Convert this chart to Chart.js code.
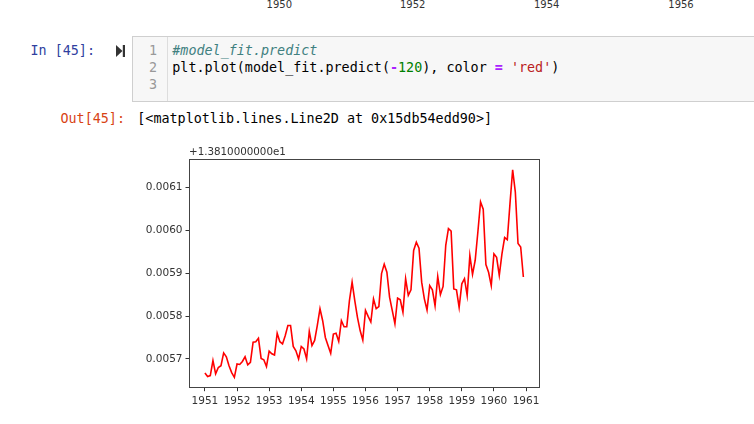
<!DOCTYPE html>
<html>
<head>
<meta charset="utf-8">
<script src="https://cdn.jsdelivr.net/npm/chart.js@4.4.0/dist/chart.umd.min.js"></script>
<style>
  html, body { margin:0; padding:0; background:#fff; width:754px; height:424px; overflow:hidden; position:relative; }
  .abs { position:absolute; white-space:pre; }
  .mono { font-family:"DejaVu Sans Mono", "Liberation Mono", monospace; font-size:13.4px; line-height:17px; }
  .toplbl { font-family:"DejaVu Sans", sans-serif; font-size:10px; line-height:12px; color:#333; top:-1.5px; transform:translateX(-50%); }
  #cell { position:absolute; left:131.5px; top:35.5px; width:640px; height:66.5px; background:#f7f7f7; border:1px solid #cfcfcf; box-sizing:border-box; }
  #gutter { position:absolute; left:131.5px; top:36.5px; width:36px; height:64.5px; border-right:1px solid #ddd; box-sizing:border-box; }
  .ln { color:#999; text-align:right; width:20px; }
  .cm { color:#408080; font-style:italic; }
  .op { color:#AA22FF; font-weight:bold; }
  .nu { color:#008000; }
  .st { color:#BA2121; }
  #chartWrap { position:absolute; left:130px; top:140px; width:420px; height:280px; }
</style>
</head>
<body>
<div class="abs toplbl" style="left:279.3px">1950</div>
<div class="abs toplbl" style="left:412.7px">1952</div>
<div class="abs toplbl" style="left:546.7px">1954</div>
<div class="abs toplbl" style="left:681px">1956</div>

<div class="abs mono" style="left:30.5px; top:42px; color:#303F9F;">In [45]:</div>
<svg class="abs" style="left:115.5px; top:44.5px;" width="10" height="12" viewBox="0 0 10 12">
  <polygon points="0,0 6.5,6 0,12" fill="#333"/>
  <rect x="6.8" y="0" width="2.2" height="12" fill="#333"/>
</svg>
<div id="cell"></div>
<div id="gutter"></div>
<div class="abs mono ln" style="left:137px; top:42px;">1</div>
<div class="abs mono ln" style="left:137px; top:59px;">2</div>
<div class="abs mono ln" style="left:137px; top:76px;">3</div>
<div class="abs mono" style="left:172.3px; top:42px;"><span class="cm">#model_fit.predict</span></div>
<div class="abs mono" style="left:172.3px; top:59px; color:#000;">plt.plot(model_fit.predict(<span class="op">-</span><span class="nu">120</span>), color <span class="op">=</span> <span class="st">'red'</span>)</div>

<div class="abs mono" style="left:60.5px; top:109.5px; color:#D84315;">Out[45]:</div>
<div class="abs mono" style="left:137.3px; top:109.5px; color:#000;">[&lt;matplotlib.lines.Line2D at 0x15db54edd90&gt;]</div>

<div id="chartWrap"><canvas id="c" width="420" height="280" style="width:420px;height:280px;"></canvas></div>

<script>
// ---- data ----
const offsetLabel = "+1.3810000000e1";
const startYear = 1951;          // first monthly point: 1951-01
const yearTicks = [1951, 1952, 1953, 1954, 1955, 1956, 1957, 1958, 1959, 1960, 1961];
const valueTicks = [0.0057, 0.0058, 0.0059, 0.0060, 0.0061];
// predicted values minus the offset 13.81, monthly 1951-01 .. 1960-12
const predicted = [
  0.005667, 0.005659, 0.005661, 0.005696, 0.005665, 0.005680, 0.005684, 0.005714, 0.005705, 0.005684, 0.005668, 0.005657,
  0.005688, 0.005687, 0.005694, 0.005705, 0.005686, 0.005692, 0.005739, 0.005740, 0.005748, 0.005701, 0.005698, 0.005682,
  0.005718, 0.005712, 0.005709, 0.005760, 0.005740, 0.005735, 0.005754, 0.005778, 0.005778, 0.005729, 0.005719, 0.005700,
  0.005729, 0.005723, 0.005700, 0.005764, 0.005731, 0.005743, 0.005778, 0.005817, 0.005789, 0.005750, 0.005731, 0.005713,
  0.005758, 0.005760, 0.005741, 0.005789, 0.005775, 0.005775, 0.005836, 0.005879, 0.005836, 0.005797, 0.005766, 0.005744,
  0.005813, 0.005799, 0.005786, 0.005840, 0.005817, 0.005822, 0.005899, 0.005921, 0.005902, 0.005844, 0.005813, 0.005782,
  0.005842, 0.005838, 0.005809, 0.005887, 0.005848, 0.005861, 0.005953, 0.005972, 0.005958, 0.005879, 0.005840, 0.005814,
  0.005871, 0.005861, 0.005824, 0.005892, 0.005850, 0.005869, 0.005965, 0.006004, 0.005998, 0.005863, 0.005861, 0.005820,
  0.005875, 0.005887, 0.005848, 0.005941, 0.005897, 0.005930, 0.005996, 0.006066, 0.006049, 0.005920, 0.005902, 0.005871,
  0.005945, 0.005937, 0.005895, 0.005945, 0.005983, 0.005978, 0.006062, 0.006141, 0.006089, 0.005969, 0.005961, 0.005891
];
const xMin = 1950.504, xMax = 1961.413;
const yMin = 0.0056328, yMax = 0.0061655;

const points = predicted.map((v, i) => ({ x: startYear + i / 12, y: v }));

const tickFont = { family: "DejaVu Sans", size: 10.5 };
const inkColor = "#333";

const framePlugin = {
  id: "frame",
  afterDraw(chart) {
    const { ctx, chartArea: a } = chart;
    ctx.save();
    ctx.strokeStyle = "#444";
    ctx.lineWidth = 1;
    ctx.strokeRect(Math.round(a.left) + 0.5, Math.round(a.top) + 0.5,
                   Math.round(a.right - a.left), Math.round(a.bottom - a.top));
    ctx.fillStyle = inkColor;
    ctx.font = "10.3px 'DejaVu Sans'";
    ctx.textAlign = "left";
    ctx.textBaseline = "alphabetic";
    ctx.fillText(offsetLabel, a.left, a.top - 4);
    ctx.restore();
  }
};

new Chart(document.getElementById("c"), {
  type: "line",
  data: {
    datasets: [{
      data: points,
      borderColor: "#ff0000",
      borderWidth: 1.6,
      pointRadius: 0,
      tension: 0,
      fill: false
    }]
  },
  options: {
    responsive: false,
    animation: false,
    devicePixelRatio: 1,
    layout: { padding: { top: 19.3, right: 10.7, bottom: 4.3, left: 0 } },
    plugins: { legend: { display: false }, tooltip: { enabled: false } },
    scales: {
      x: {
        type: "linear",
        min: xMin, max: xMax,
        afterBuildTicks(s) { s.ticks = yearTicks.map(v => ({ value: v })); },
        afterFit(s) { s.height = 28; s.paddingLeft = 0; s.paddingRight = 0; },
        ticks: { autoSkip: false, maxRotation: 0, color: inkColor, font: tickFont, padding: 3.5,
                 callback: v => String(v) },
        grid: { drawOnChartArea: false, drawTicks: true, tickLength: 3.5, tickColor: inkColor, tickWidth: 1 },
        border: { display: false }
      },
      y: {
        type: "linear",
        min: yMin, max: yMax,
        afterBuildTicks(s) { s.ticks = valueTicks.map(v => ({ value: v })); },
        afterFit(s) { s.width = 59; },
        ticks: { autoSkip: false, color: inkColor, font: tickFont, padding: 3,
                 callback: v => Number(v).toFixed(4) },
        grid: { drawOnChartArea: false, drawTicks: true, tickLength: 3.5, tickColor: inkColor, tickWidth: 1 },
        border: { display: false }
      }
    }
  },
  plugins: [framePlugin]
});
</script>
</body>
</html>
